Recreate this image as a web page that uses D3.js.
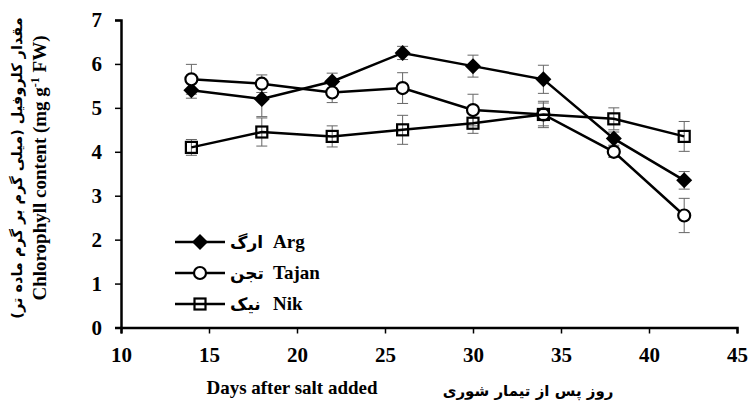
<!DOCTYPE html>
<html>
<head>
<meta charset="utf-8">
<script src="https://cdn.jsdelivr.net/npm/d3@7"></script>
<style>
  body { margin: 0; background: #fff; }
  text { font-family: "Liberation Serif", "Times New Roman", serif; font-weight: bold; fill: #000; }
  .fa { font-family: "DejaVu Sans", sans-serif; }
</style>
</head>
<body>
<div id="chart"></div>
<script>
// Data
var days = [14, 18, 22, 26, 30, 34, 38, 42];
var argVals   = [5.4, 5.2, 5.6, 6.25, 5.95, 5.65, 4.3, 3.35];
var argErr    = [0.18, 0.4, 0.19, 0.15, 0.25, 0.32, 0.15, 0.2];
var tajanVals = [5.65, 5.55, 5.35, 5.45, 4.95, 4.85, 4.0, 2.55];
var tajanErr  = [0.34, 0.2, 0.23, 0.35, 0.36, 0.3, 0.13, 0.39];
var nikVals   = [4.1, 4.45, 4.35, 4.5, 4.65, 4.85, 4.75, 4.35];
var nikErr    = [0.18, 0.32, 0.24, 0.33, 0.23, 0.26, 0.25, 0.34];
var xTicks = [10, 15, 20, 25, 30, 35, 40, 45];
var yTicks = [0, 1, 2, 3, 4, 5, 6, 7];

var series = [
  { name: "Arg", fa: "ارگ", vals: argVals, err: argErr, shape: "diamond" },
  { name: "Tajan", fa: "تجن", vals: tajanVals, err: tajanErr, shape: "circle" },
  { name: "Nik", fa: "نیک", vals: nikVals, err: nikErr, shape: "square" }
];

var width = 751, height = 408;
var margin = { left: 121, right: 14, top: 20, bottom: 80 };

var svg = d3.select("#chart").append("svg")
  .attr("width", width)
  .attr("height", height);

var x = d3.scaleLinear().domain([10, 45]).range([margin.left, width - margin.right]);
var y = d3.scaleLinear().domain([0, 7]).range([height - margin.bottom - 0.5, margin.top]);

// axes
var xAxis = svg.append("g")
  .attr("transform", "translate(0," + y(0) + ")")
  .call(d3.axisBottom(x).tickValues(xTicks).tickSize(6).tickPadding(14).tickFormat(d3.format("d")));
var yAxis = svg.append("g")
  .attr("transform", "translate(" + x(10) + ",0)")
  .call(d3.axisLeft(y).tickValues(yTicks).tickSize(6).tickPadding(13).tickFormat(d3.format("d")));

[xAxis, yAxis].forEach(function(g) {
  g.select(".domain").attr("stroke", "#000").attr("stroke-width", 2.5);
  g.selectAll(".tick line").attr("stroke", "#000").attr("stroke-width", 1.5);
  g.selectAll(".tick text")
    .style("font-size", "21px")
    .style("font-family", "'Liberation Serif', 'Times New Roman', serif")
    .style("font-weight", "bold");
});

// error bars
var capW = 5.5;
series.forEach(function(s) {
  var g = svg.append("g").attr("stroke", "#666").attr("stroke-width", 1);
  days.forEach(function(d, i) {
    var cx = x(d), lo = y(s.vals[i] - s.err[i]), hi = y(s.vals[i] + s.err[i]);
    g.append("line").attr("x1", cx).attr("x2", cx).attr("y1", lo).attr("y2", hi);
    g.append("line").attr("x1", cx - capW).attr("x2", cx + capW).attr("y1", lo).attr("y2", lo);
    g.append("line").attr("x1", cx - capW).attr("x2", cx + capW).attr("y1", hi).attr("y2", hi);
  });
});

var line = d3.line()
  .x(function(d) { return x(d[0]); })
  .y(function(d) { return y(d[1]); });

function drawMarker(g, shape, cx, cy) {
  if (shape == "diamond") {
    g.append("path")
      .attr("d", "M" + cx + "," + (cy - 8) + "L" + (cx + 8) + "," + cy + "L" + cx + "," + (cy + 8) + "L" + (cx - 8) + "," + cy + "Z")
      .attr("fill", "#000");
  } else if (shape == "circle") {
    g.append("circle").attr("cx", cx).attr("cy", cy).attr("r", 6)
      .attr("fill", "#fff").attr("stroke", "#000").attr("stroke-width", 2.2);
  } else {
    g.append("rect").attr("x", cx - 5.5).attr("y", cy - 5.5).attr("width", 11).attr("height", 11)
      .attr("fill", "none").attr("stroke", "#000").attr("stroke-width", 2.2);
  }
}

// lines and markers
series.forEach(function(s) {
  var pts = days.map(function(d, i) { return [d, s.vals[i]]; });
  svg.append("path").datum(pts)
    .attr("d", line)
    .attr("fill", "none")
    .attr("stroke", "#000")
    .attr("stroke-width", 2.5);
  var g = svg.append("g");
  pts.forEach(function(p) { drawMarker(g, s.shape, x(p[0]), y(p[1])); });
});

// legend
var legY = [242, 273, 304];
series.forEach(function(s, i) {
  var g = svg.append("g");
  g.append("line").attr("x1", 175).attr("x2", 225).attr("y1", legY[i]).attr("y2", legY[i])
    .attr("stroke", "#000").attr("stroke-width", 2.5);
  drawMarker(g, s.shape, 200, legY[i]);
  g.append("text").attr("class", "fa").attr("x", 230).attr("y", legY[i] + 6)
    .style("font-size", "17px").text(s.fa);
  g.append("text").attr("x", 273).attr("y", legY[i] + 6)
    .style("font-size", "19px").text(s.name);
});

// axis titles
svg.append("text").attr("x", 292).attr("y", 394).attr("text-anchor", "middle")
  .style("font-size", "19px").text("Days after salt added");
svg.append("text").attr("class", "fa").attr("x", 528).attr("y", 396).attr("text-anchor", "middle")
  .attr("direction", "rtl").style("font-size", "15px").text("روز پس از تیمار شوری");

var yt = svg.append("text").attr("transform", "translate(46,168) rotate(-90)").attr("text-anchor", "middle")
  .style("font-size", "19px");
yt.append("tspan").text("Chlorophyll content (mg g");
yt.append("tspan").attr("dy", -7).style("font-size", "12px").text("-1");
yt.append("tspan").attr("dy", 7).text(" FW)");

svg.append("text").attr("class", "fa").attr("transform", "translate(22,168) rotate(-90)")
  .attr("text-anchor", "middle").attr("direction", "rtl").style("font-size", "14.5px")
  .text("مقدار کلروفیل (میلی گرم بر گرم ماده تر)");
</script>
</body>
</html>
